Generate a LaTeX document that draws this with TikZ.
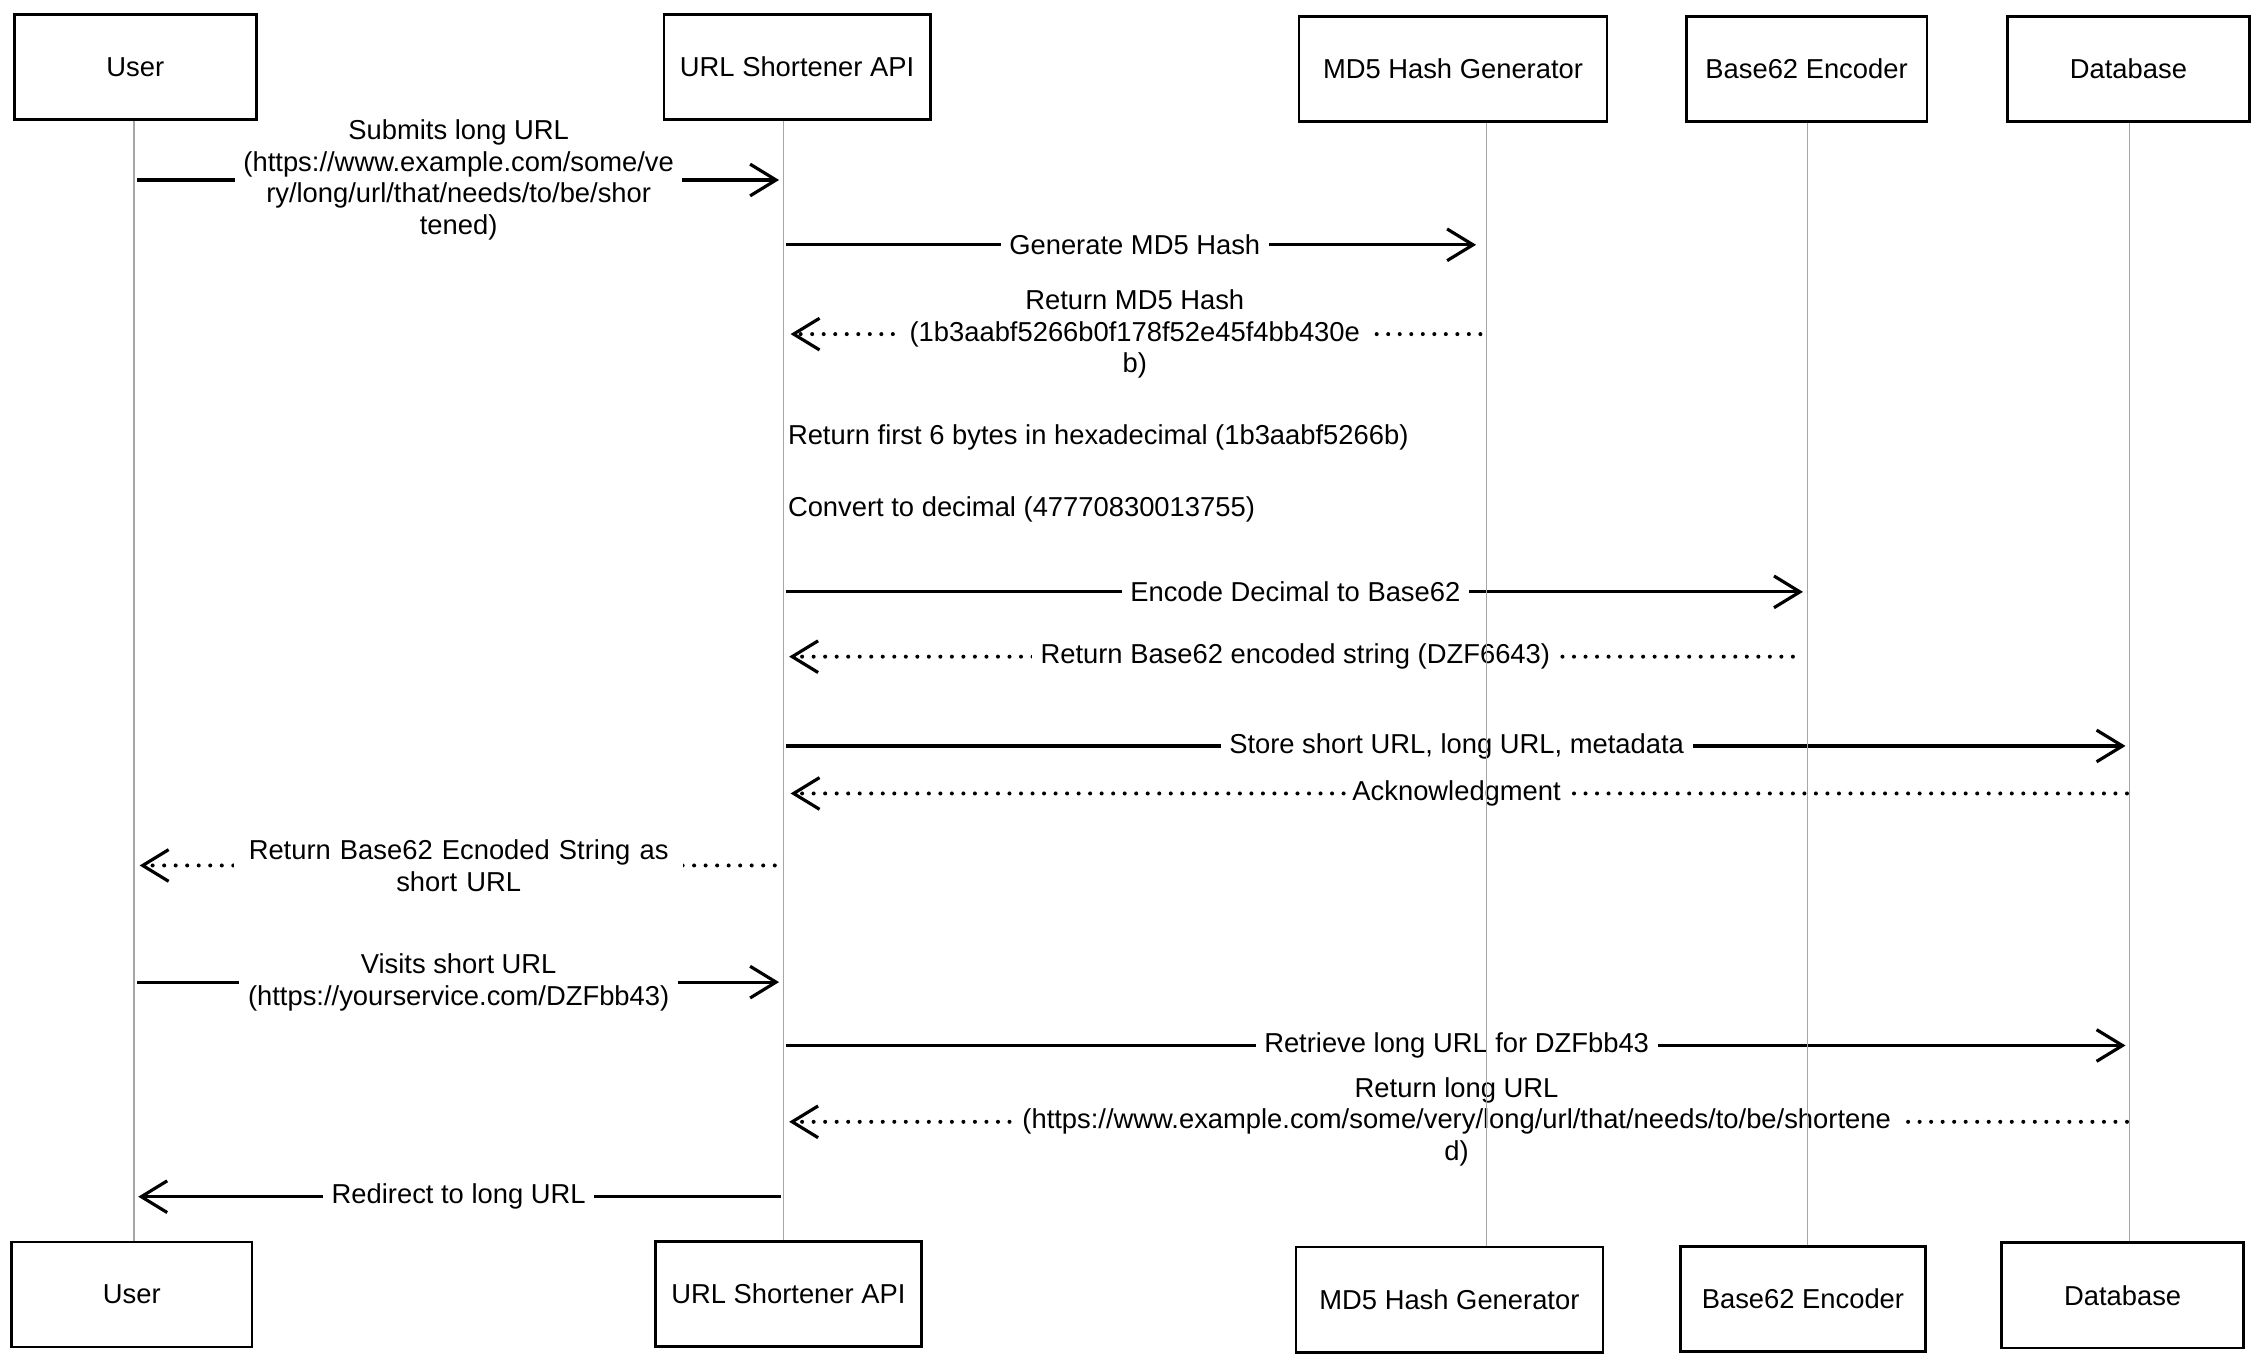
\documentclass[tikz,border=0pt]{standalone}
\usepackage{fontspec}
\setmainfont{Liberation Sans}
\usetikzlibrary{arrows.meta}

\begin{document}
\begin{tikzpicture}[x=1pt, y=-1pt,
  actor/.style={draw, fill=white, line width=1.8pt, minimum height=73pt, font=\fontsize{19}{22}\selectfont},
  lifeline/.style={draw=gray!70, line width=0.8pt},
  msg/.style={line width=2.2pt, shorten >=3pt, shorten <=2pt, -{Straight Barb[length=18pt,width=22pt,line width=2.2pt]}},
  reply/.style={msg, line cap=round, dash pattern=on 0pt off 8pt, line width=2.8pt},
  lbl/.style={fill=white, inner xsep=6pt, inner ysep=0pt, align=center, font=\fontsize{19}{22}\selectfont},
  note/.style={anchor=west, inner sep=1pt, font=\fontsize{19}{22}\selectfont}]
\useasboundingbox (0,0) rectangle (1568,947);

% lifeline positions
\coordinate (userL) at (93,0);
\coordinate (apiL) at (544,0);
\coordinate (md5L) at (1032,0);
\coordinate (baseL) at (1255,0);
\coordinate (dbL) at (1479,0);

% messages
\draw[msg] (userL |- 0,125) -- node[lbl] {Submits long URL\\(https://www.example.com/some/ve\\ry/long/url/that/needs/to/be/shor\\tened)} (apiL |- 0,125);
\draw[msg, shorten >=7pt] (apiL |- 0,170) -- node[lbl] {Generate MD5 Hash} (md5L |- 0,170);
\draw[reply, shorten <=4pt, shorten >=5pt] (md5L |- 0,232) -- node[lbl] {Return MD5 Hash\\(1b3aabf5266b0f178f52e45f4bb430e\\b)} (apiL |- 0,232);
\node[note] (hexNote) at (546,304) {Return first 6 bytes in hexadecimal (1b3aabf5266b)};
\node[note] (decNote) at (546,354) {Convert to decimal (47770830013755)};
\draw[msg] (apiL |- 0,411) -- node[lbl] {Encode Decimal to Base62} (baseL |- 0,411);
\draw[reply, shorten <=10pt, shorten >=4pt] (baseL |- 0,456) -- node[lbl] {Return Base62 encoded string (DZF6643)} (apiL |- 0,456);
\draw[msg] (apiL |- 0,518) -- node[lbl] {Store short URL, long URL, metadata} (dbL |- 0,518);
\draw[reply, shorten >=5pt] (dbL |- 0,551) -- node[lbl, inner xsep=4pt] {Acknowledgment} (apiL |- 0,551);
\draw[reply, shorten <=6pt, shorten >=4pt] (apiL |- 0,601) -- node[lbl, text width=300pt] {Return Base62 Ecnoded String as\\short URL} (userL |- 0,601);
\draw[msg] (userL |- 0,682) -- node[lbl] {Visits short URL\\(https://yourservice.com/DZFbb43)} (apiL |- 0,682);
\draw[msg] (apiL |- 0,726) -- node[lbl] {Retrieve long URL for DZFbb43} (dbL |- 0,726);
\draw[reply, shorten >=4pt] (dbL |- 0,779) -- node[lbl] {Return long URL\\(https://www.example.com/some/very/long/url/that/needs/to/be/shortene\\d)} (apiL |- 0,779);
\draw[msg] (apiL |- 0,831) -- node[lbl] {Redirect to long URL} (userL |- 0,831);

% participants, top row
\node[actor, minimum width=168pt] (userTop) at (94,46.5) {User};
\node[actor, minimum width=185pt] (apiTop) at (553.5,46.5) {URL Shortener API};
\node[actor, minimum width=214pt] (md5Top) at (1009,48) {MD5 Hash Generator};
\node[actor, minimum width=167pt] (baseTop) at (1254.5,48) {Base62 Encoder};
\node[actor, minimum width=168pt] (dbTop) at (1478,48) {Database};

% participants, bottom row
\node[actor, minimum width=167pt] (userBot) at (91.5,899) {User};
\node[actor, minimum width=185pt] (apiBot) at (547.5,898.5) {URL Shortener API};
\node[actor, minimum width=213pt] (md5Bot) at (1006.5,902.5) {MD5 Hash Generator};
\node[actor, minimum width=170pt] (baseBot) at (1252,902) {Base62 Encoder};
\node[actor, minimum width=168pt] (dbBot) at (1474,899.5) {Database};

% lifelines
\draw[lifeline] (userL |- userTop.south) -- (userL |- userBot.north);
\draw[lifeline] (apiL |- apiTop.south) -- (apiL |- apiBot.north);
\draw[lifeline] (md5L |- md5Top.south) -- (md5L |- md5Bot.north);
\draw[lifeline] (baseL |- baseTop.south) -- (baseL |- baseBot.north);
\draw[lifeline] (dbL |- dbTop.south) -- (dbL |- dbBot.north);
\end{tikzpicture}
\end{document}
